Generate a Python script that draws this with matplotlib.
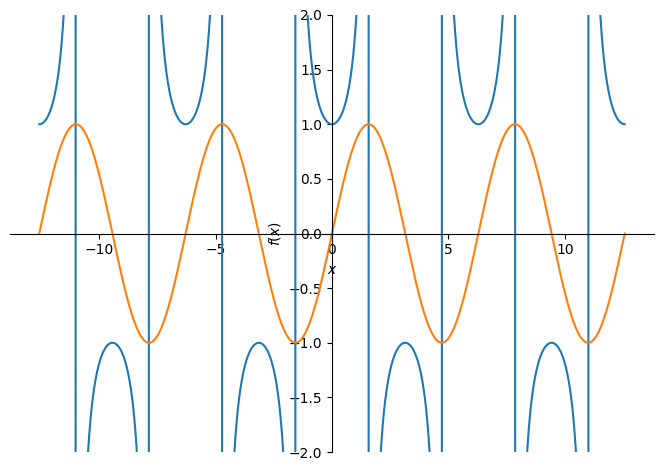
import numpy as np
import matplotlib
matplotlib.use("Agg")
import matplotlib.pyplot as plt

# function plot: sec(x) and sin(x) on [-4*pi, 4*pi]
x_min, x_max = -4 * np.pi, 4 * np.pi
n_points = 2000
y_limits = (-2, 2)

x = np.linspace(x_min, x_max, n_points)
sec_vals = 1 / np.cos(x)
sin_vals = np.sin(x)

fig = plt.figure(figsize=(6.62, 4.70), dpi=100)
ax = fig.add_axes([10 / 662, 18 / 470, 644 / 662, 437 / 470])

ax.plot(x, sec_vals, color="tab:blue")
ax.plot(x, sin_vals, color="tab:orange")

ax.spines["left"].set_position("zero")
ax.spines["bottom"].set_position("zero")
ax.spines["right"].set_visible(False)
ax.spines["top"].set_visible(False)
ax.xaxis.set_ticks_position("bottom")
ax.yaxis.set_ticks_position("left")

ax.set_xlim(x_min - 0.05 * (x_max - x_min), x_max + 0.05 * (x_max - x_min))
ax.set_ylim(*y_limits)
ax.set_yticks(np.arange(-2, 2.01, 0.5))
ax.set_xlabel("$x$")
ax.set_ylabel("$f{\\left(x \\right)}$")

fig.savefig("out.png", dpi=100)
